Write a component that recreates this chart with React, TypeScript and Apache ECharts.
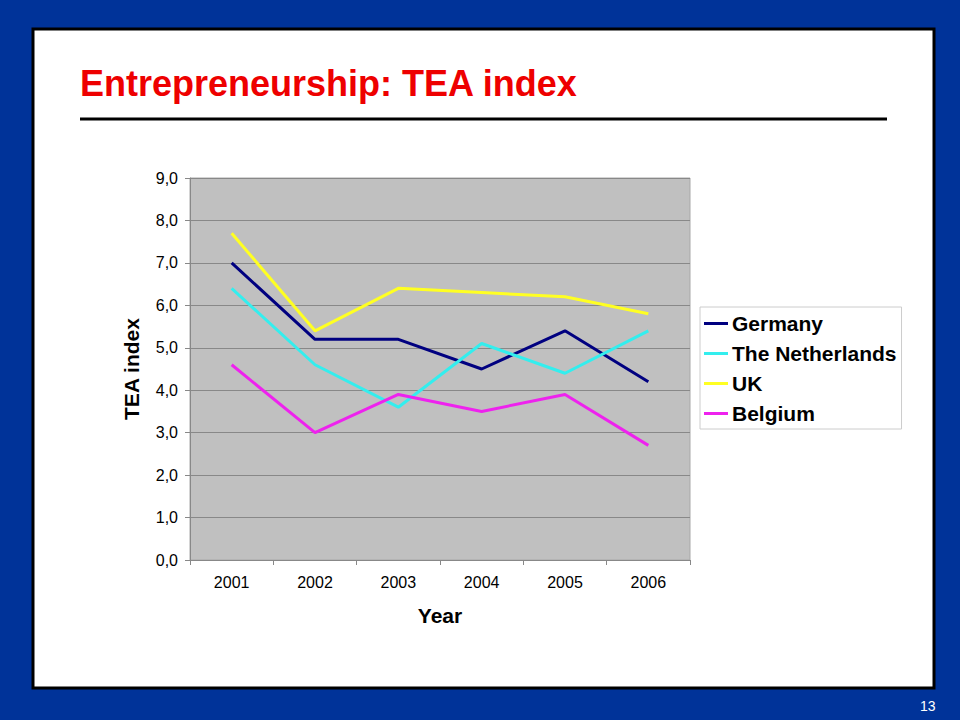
import React, { useEffect, useRef } from "react";
import * as echarts from "echarts";

const years = ["2001", "2002", "2003", "2004", "2005", "2006"];
const germany = [7.0, 5.2, 5.2, 4.5, 5.4, 4.2];
const netherlands = [6.4, 4.6, 3.6, 5.1, 4.4, 5.4];
const uk = [7.7, 5.4, 6.4, 6.3, 6.2, 5.8];
const belgium = [4.6, 3.0, 3.9, 3.5, 3.9, 2.7];
const seriesNames = ["Germany", "The Netherlands", "UK", "Belgium"];
const seriesColors = ["#000080", "#33EEEE", "#FFFF22", "#EE22EE"];

export default function App() {
  const ref = useRef<HTMLDivElement>(null);
  useEffect(() => {
    if (!ref.current) return;
    const chart = echarts.init(ref.current, undefined, { renderer: "svg" });
    const data = [germany, netherlands, uk, belgium];
    chart.setOption({
      animation: false,
      backgroundColor: "#003399",
      textStyle: { fontFamily: "Liberation Sans, Arial, sans-serif" },
      graphic: [
        {
          type: "rect",
          shape: { x: 33, y: 29, width: 901, height: 659 },
          style: { fill: "#ffffff", stroke: "#000000", lineWidth: 3 },
          z: -10,
        },
        {
          type: "text",
          x: 80,
          y: 65,
          style: {
            text: "Entrepreneurship: TEA index",
            fill: "#EE0000",
            font: "bold 36px 'Liberation Sans', Arial, sans-serif",
          },
        },
        {
          type: "line",
          shape: { x1: 80, y1: 119, x2: 887, y2: 119 },
          style: { stroke: "#000000", lineWidth: 3 },
        },
        {
          type: "text",
          x: 920,
          y: 699,
          style: {
            text: "13",
            fill: "#ffffff",
            font: "14px 'Liberation Sans', Arial, sans-serif",
          },
        },
      ],
      grid: {
        left: 190,
        top: 178,
        right: 270,
        bottom: 160,
        show: true,
        backgroundColor: "#C0C0C0",
        borderColor: "#A8A8A8",
        borderWidth: 1,
      },
      legend: {
        orient: "vertical",
        left: 700,
        top: 307,
        padding: [6, 5, 5, 4],
        borderColor: "#cccccc",
        borderWidth: 1,
        backgroundColor: "#ffffff",
        icon: "rect",
        itemWidth: 24,
        itemHeight: 3,
        itemGap: 9,
        data: seriesNames,
        textStyle: {
          fontSize: 21,
          fontWeight: "bold",
          color: "#000",
          padding: [0, 0, 0, -1],
        },
      },
      xAxis: {
        type: "category",
        data: years,
        boundaryGap: true,
        name: "Year",
        nameLocation: "middle",
        nameGap: 45,
        nameTextStyle: { fontSize: 21, fontWeight: "bold", color: "#000" },
        axisLine: { lineStyle: { color: "#888", width: 1 } },
        axisTick: { show: true, length: 5, lineStyle: { color: "#888" } },
        axisLabel: { fontSize: 16, color: "#000", margin: 14 },
      },
      yAxis: {
        type: "value",
        min: 0,
        max: 9,
        interval: 1,
        name: "TEA index",
        nameLocation: "middle",
        nameGap: 48,
        nameRotate: 90,
        nameTextStyle: { fontSize: 21, fontWeight: "bold", color: "#000" },
        axisLine: { show: true, lineStyle: { color: "#888", width: 1 } },
        axisTick: { show: true, length: 5, lineStyle: { color: "#888" } },
        axisLabel: {
          fontSize: 16,
          color: "#000",
          margin: 12,
          formatter: (v: number) => v.toFixed(1).replace(".", ","),
        },
        splitLine: { lineStyle: { color: "#888888", width: 1 } },
      },
      series: data.map((d, i) => ({
        type: "line",
        name: seriesNames[i],
        data: d,
        symbol: "none",
        color: seriesColors[i],
        lineStyle: { width: 3, color: seriesColors[i] },
      })),
    });
    return () => chart.dispose();
  }, []);
  return (
    <div style={{ position: "absolute", left: 0, top: 0, width: 960, height: 720 }}>
      <div ref={ref} style={{ width: 960, height: 720 }} />
    </div>
  );
}
